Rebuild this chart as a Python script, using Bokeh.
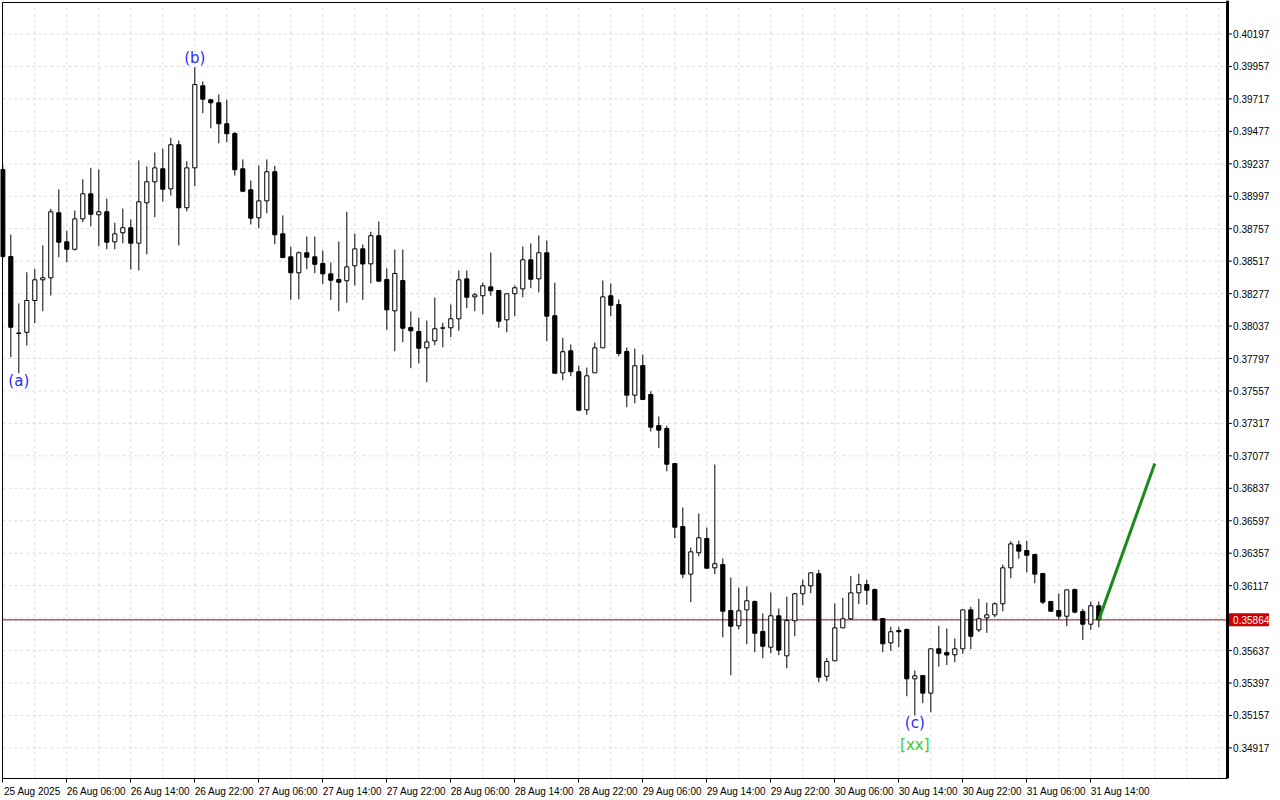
from bokeh.plotting import figure
from bokeh.models import ColumnDataSource, FixedTicker, LinearAxis, Range1d
from bokeh.embed import file_html
from bokeh.resources import INLINE
from bokeh.core.properties import value

opens = [0.39195, 0.38551, 0.37986, 0.37991, 0.38226, 0.38379, 0.38394, 0.38875, 0.38660, 0.38605,
         0.38830, 0.39015, 0.38860, 0.38882, 0.38660, 0.38727, 0.38764, 0.38650, 0.38949, 0.39104,
         0.39200, 0.39052, 0.39378, 0.38912, 0.39207, 0.39814, 0.39710, 0.39688, 0.39533, 0.39461,
         0.39200, 0.39045, 0.38838, 0.38963, 0.39178, 0.38719, 0.38549, 0.38431, 0.38579, 0.38549,
         0.38500, 0.38423, 0.38381, 0.38372, 0.38483, 0.38608, 0.38497, 0.38705, 0.38381, 0.38150,
         0.38374, 0.38026, 0.37997, 0.37876, 0.37928, 0.38021, 0.38024, 0.38091, 0.38386, 0.38253,
         0.38261, 0.38327, 0.38300, 0.38083, 0.38276, 0.38312, 0.38527, 0.38386, 0.38579, 0.38113,
         0.37691, 0.37854, 0.37699, 0.37418, 0.37691, 0.37876, 0.38261, 0.38196, 0.37849, 0.37526,
         0.37745, 0.37531, 0.37301, 0.37279, 0.37020, 0.36554, 0.36202, 0.36360, 0.36466, 0.36249,
         0.36273, 0.35933, 0.35820, 0.35938, 0.36000, 0.35778, 0.35662, 0.35894, 0.35598, 0.35857,
         0.36057, 0.36116, 0.36205, 0.35447, 0.35561, 0.35805, 0.35872, 0.36064, 0.36125, 0.36088,
         0.35874, 0.35694, 0.35785, 0.35793, 0.35428, 0.35452, 0.35322, 0.35650, 0.35623, 0.35606,
         0.35650, 0.35938, 0.35790, 0.35879, 0.35901, 0.35983, 0.36249, 0.36419, 0.36377, 0.36347,
         0.36207, 0.36000, 0.35933, 0.35891, 0.36088, 0.35926, 0.35832, 0.35968]
highs = [0.39224, 0.38714, 0.38204, 0.38435, 0.38460, 0.38633, 0.38904, 0.39047, 0.38741, 0.38892,
         0.39123, 0.39207, 0.39195, 0.38980, 0.38801, 0.38906, 0.38825, 0.39261, 0.39217, 0.39321,
         0.39350, 0.39429, 0.39409, 0.39256, 0.39951, 0.39846, 0.39718, 0.39750, 0.39710, 0.39474,
         0.39269, 0.39113, 0.39224, 0.39269, 0.39222, 0.38855, 0.38625, 0.38588, 0.38699, 0.38699,
         0.38596, 0.38507, 0.38662, 0.38882, 0.38721, 0.38640, 0.38734, 0.38810, 0.38463, 0.38603,
         0.38603, 0.38145, 0.38100, 0.38078, 0.38248, 0.38061, 0.38196, 0.38448, 0.38448, 0.38283,
         0.38359, 0.38581, 0.38300, 0.38276, 0.38337, 0.38625, 0.38648, 0.38707, 0.38670, 0.38357,
         0.37950, 0.37901, 0.37745, 0.37730, 0.37915, 0.38374, 0.38352, 0.38233, 0.37878, 0.37871,
         0.37827, 0.37555, 0.37368, 0.37299, 0.37020, 0.36695, 0.36399, 0.36651, 0.36547, 0.37013,
         0.36318, 0.36177, 0.36103, 0.36111, 0.36007, 0.35911, 0.36066, 0.35948, 0.36035, 0.36063,
         0.36162, 0.36212, 0.36234, 0.35583, 0.35985, 0.36027, 0.36187, 0.36205, 0.36160, 0.36096,
         0.35874, 0.35813, 0.35813, 0.35800, 0.35489, 0.35452, 0.35650, 0.35820, 0.35800, 0.35726,
         0.35938, 0.35961, 0.36020, 0.35992, 0.35992, 0.36273, 0.36446, 0.36449, 0.36449, 0.36353,
         0.36207, 0.36000, 0.36059, 0.36086, 0.36096, 0.35946, 0.36000, 0.36000]
lows = [0.38537, 0.37807, 0.37688, 0.37893, 0.38058, 0.38147, 0.38263, 0.38546, 0.38509, 0.38596,
        0.38805, 0.38775, 0.38628, 0.38605, 0.38605, 0.38650, 0.38455, 0.38448, 0.38568, 0.38842,
        0.38958, 0.39003, 0.38633, 0.38886, 0.39071, 0.39611, 0.39500, 0.39389, 0.39397, 0.39150,
        0.39027, 0.38788, 0.38761, 0.38872, 0.38642, 0.38539, 0.38231, 0.38236, 0.38458, 0.38428,
        0.38349, 0.38231, 0.38147, 0.38209, 0.38337, 0.38231, 0.38354, 0.38363, 0.38009, 0.37851,
        0.37918, 0.37725, 0.37762, 0.37622, 0.37895, 0.37881, 0.37955, 0.38002, 0.38169, 0.38147,
        0.38125, 0.38261, 0.38024, 0.37991, 0.38110, 0.38250, 0.38317, 0.38287, 0.37925, 0.37686,
        0.37636, 0.37666, 0.37409, 0.37381, 0.37691, 0.37876, 0.38110, 0.37814, 0.37437, 0.37466,
        0.37490, 0.37257, 0.37134, 0.36963, 0.36468, 0.36172, 0.35995, 0.36335, 0.36242, 0.36202,
        0.35736, 0.35455, 0.35793, 0.35684, 0.35625, 0.35580, 0.35617, 0.35603, 0.35506, 0.35743,
        0.35972, 0.36061, 0.35403, 0.35410, 0.35561, 0.35805, 0.35864, 0.35980, 0.35975, 0.35859,
        0.35625, 0.35635, 0.35662, 0.35299, 0.35157, 0.35248, 0.35181, 0.35519, 0.35530, 0.35551,
        0.35613, 0.35647, 0.35773, 0.35768, 0.35884, 0.35928, 0.36172, 0.36316, 0.36216, 0.36135,
        0.35980, 0.35928, 0.35867, 0.35817, 0.35913, 0.35714, 0.35790, 0.35810]
closes = [0.38551, 0.38028, 0.37982, 0.38226, 0.38379, 0.38394, 0.38882, 0.38657, 0.38605, 0.38830,
          0.39015, 0.38864, 0.38882, 0.38657, 0.38719, 0.38764, 0.38650, 0.38956, 0.39104, 0.39207,
          0.39049, 0.39378, 0.38912, 0.39207, 0.39823, 0.39715, 0.39688, 0.39533, 0.39459, 0.39193,
          0.39034, 0.38835, 0.38963, 0.39178, 0.38712, 0.38544, 0.38431, 0.38579, 0.38546, 0.38494,
          0.38423, 0.38376, 0.38361, 0.38475, 0.38608, 0.38496, 0.38705, 0.38369, 0.38157, 0.38426,
          0.38021, 0.38002, 0.37873, 0.37920, 0.38017, 0.38024, 0.38091, 0.38379, 0.38250, 0.38268,
          0.38335, 0.38298, 0.38073, 0.38276, 0.38320, 0.38527, 0.38383, 0.38579, 0.38110, 0.37688,
          0.37847, 0.37699, 0.37415, 0.37669, 0.37876, 0.38253, 0.38191, 0.37834, 0.37526, 0.37743,
          0.37494, 0.37289, 0.37267, 0.37015, 0.36549, 0.36202, 0.36367, 0.36471, 0.36246, 0.36279,
          0.35928, 0.35817, 0.35931, 0.36005, 0.35765, 0.35669, 0.35894, 0.35640, 0.35859, 0.36057,
          0.36116, 0.36212, 0.35440, 0.35556, 0.35805, 0.35872, 0.36064, 0.36125, 0.36083, 0.35864,
          0.35687, 0.35776, 0.35776, 0.35428, 0.35450, 0.35322, 0.35650, 0.35617, 0.35604, 0.35650,
          0.35938, 0.35743, 0.35872, 0.35901, 0.35983, 0.36249, 0.36426, 0.36372, 0.36342, 0.36202,
          0.35995, 0.35928, 0.35891, 0.36086, 0.35921, 0.35832, 0.35968, 0.35864]

time_tick_bars = [0, 8, 16, 24, 32, 40, 48, 56, 64, 72, 80, 88, 96, 104, 112, 120, 128, 136]
time_tick_labels = ["25 Aug 2025", "26 Aug 06:00", "26 Aug 14:00", "26 Aug 22:00", "27 Aug 06:00",
                    "27 Aug 14:00", "27 Aug 22:00", "28 Aug 06:00", "28 Aug 14:00", "28 Aug 22:00",
                    "29 Aug 06:00", "29 Aug 14:00", "29 Aug 22:00", "30 Aug 06:00", "30 Aug 14:00",
                    "30 Aug 22:00", "31 Aug 06:00", "31 Aug 14:00"]
price_ticks = [0.40197, 0.39957, 0.39717, 0.39477, 0.39237, 0.38997, 0.38757, 0.38517, 0.38277,
               0.38037, 0.37797, 0.37557, 0.37317, 0.37077, 0.36837, 0.36597, 0.36357, 0.36117,
               0.35637, 0.35397, 0.35157, 0.34917]
grid_prices = price_ticks + [0.35877]

wave_labels = ["(a)", "(b)", "(c)", "[xx]"]
wave_bars = [2, 24, 114, 114]
wave_prices = [0.37627, 0.40016, 0.35098, 0.34942]
wave_colors = ["#2a2aff", "#2a2aff", "#2a2aff", "#3ccc2a"]

forecast_bars = [137, 144]
forecast_prices = [closes[-1], 0.37020]

last_price = closes[-1]

# ---- layout constants (bar / price units of the chart area)
X_LEFT = -0.04          # left border of chart area
X_AXIS = 153.09         # price axis line position
Y_BOTTOM = 0.346908     # bottom of chart area
Y_TOP = 0.40430         # top border of chart area
FONT = "Liberation Sans"

n = len(opens)
bars = list(range(n))
up = [c >= o for o, c in zip(opens, closes)]

def subset(mask):
    idx = [i for i in range(n) if mask[i]]
    return ColumnDataSource(dict(
        x=[bars[i] for i in idx],
        top=[max(opens[i], closes[i]) for i in idx],
        bottom=[min(opens[i], closes[i]) for i in idx],
        high=[highs[i] for i in idx],
        low=[lows[i] for i in idx],
    ))

src_up = subset(up)
src_dn = subset([not u for u in up])

p = figure(frame_width=1272, frame_height=778, output_backend="svg", toolbar_location=None,
           x_range=Range1d(-0.2875, 158.7125), y_range=Range1d(Y_BOTTOM, 0.404448),
           min_border_left=0, min_border_top=0, min_border_right=0, min_border_bottom=20,
           x_axis_location=None, y_axis_location=None)
p.background_fill_color = "white"
p.border_fill_color = "white"
p.outline_line_color = None
p.xgrid.visible = False
p.ygrid.visible = False

# dashed grid inside chart area
vgrid = list(range(0, 153, 4))
p.segment(x0=vgrid, y0=[Y_BOTTOM] * len(vgrid), x1=vgrid, y1=[Y_TOP] * len(vgrid),
          line_color="#dcdcdc", line_dash="3 3", line_width=1)
p.segment(x0=[X_LEFT] * len(grid_prices), y0=grid_prices, x1=[X_AXIS] * len(grid_prices),
          y1=grid_prices, line_color="#dcdcdc", line_dash="3 3", line_width=1)

# chart borders
p.segment(x0=[X_LEFT, X_LEFT], y0=[Y_BOTTOM, Y_TOP], x1=[X_LEFT, X_AXIS], y1=[Y_TOP, Y_TOP],
          line_color="black", line_width=1)

# bottom time axis: labels start at tick (shifted centres), tick marks as minor ticks
label_shift = 3.7
xaxis = LinearAxis(ticker=FixedTicker(ticks=[b + label_shift for b in time_tick_bars],
                                      minor_ticks=time_tick_bars),
                   bounds=(X_LEFT, X_AXIS))
xaxis.major_label_overrides = {b + label_shift: t for b, t in zip(time_tick_bars, time_tick_labels)}
xaxis.major_tick_line_color = None
xaxis.minor_tick_line_color = "black"
xaxis.minor_tick_out = 4
xaxis.minor_tick_in = 0
xaxis.axis_line_color = "black"
xaxis.axis_line_width = 1
xaxis.major_label_text_font = FONT
xaxis.major_label_text_font_size = "10px"
xaxis.major_label_text_color = "black"
xaxis.major_label_standoff = 1
p.add_layout(xaxis, "below")

# current price line
p.segment(x0=[X_LEFT], y0=[last_price], x1=[X_AXIS], y1=[last_price],
          line_color="#8c1010", line_width=1)

# candles
for src, fill in ((src_up, "white"), (src_dn, "black")):
    p.segment(x0="x", y0="high", x1="x", y1="low", source=src, line_color="black", line_width=1)
    p.vbar(x="x", top="top", bottom="bottom", width=0.52, source=src,
           fill_color=fill, line_color="black", line_width=1)

# forecast line
p.line(forecast_bars, forecast_prices, line_color="#1a8a1a", line_width=3)

# wave labels
p.text(x=wave_bars, y=wave_prices, text=wave_labels, text_color=wave_colors,
       text_font=value("DejaVu Sans"), text_font_size="15px",
       text_align="center", text_baseline="middle")

# price axis (right): thick line, ticks, labels
p.segment(x0=[X_AXIS], y0=[Y_BOTTOM], x1=[X_AXIS], y1=[0.404448], line_color="black", line_width=3)
p.segment(x0=[X_AXIS] * len(price_ticks), y0=price_ticks, x1=[X_AXIS + 0.55] * len(price_ticks),
          y1=price_ticks, line_color="black", line_width=1)
p.text(x=[X_AXIS + 0.7] * len(price_ticks), y=price_ticks, text=[f"{t:.5f}" for t in price_ticks],
       text_color="black", text_font=value(FONT), text_font_size="10px",
       text_align="left", text_baseline="middle")

# current price tag
p.rect(x=[X_AXIS + 2.68], y=[last_price], width=40, height=13, width_units="screen",
       height_units="screen", fill_color="#cc0000", line_color=None)
p.text(x=[X_AXIS + 0.7], y=[last_price], text=[f"{last_price:.5f}"], text_color="white",
       text_font=value(FONT), text_font_size="10px", text_align="left", text_baseline="middle")

open("out.html", "w").write(file_html(p, INLINE))
